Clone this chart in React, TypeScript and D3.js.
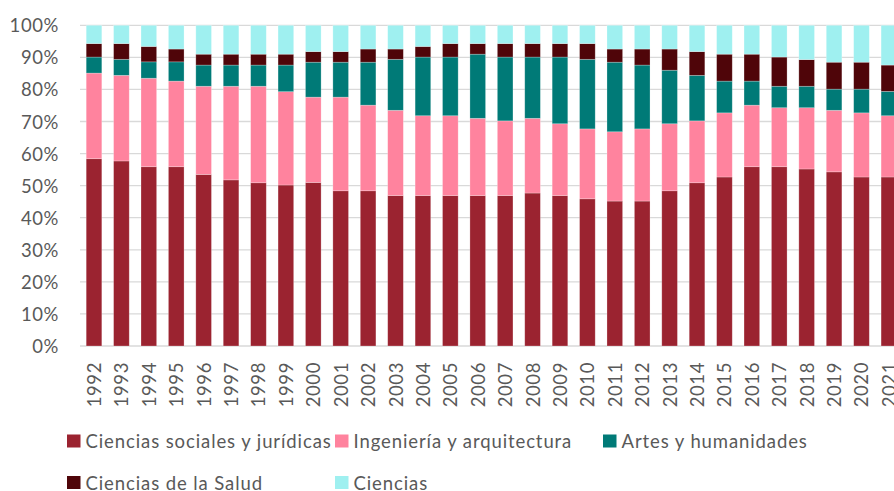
import React, { useEffect, useRef } from "react";
import * as d3 from "d3";

const years = ["1992","1993","1994","1995","1996","1997","1998","1999","2000","2001","2002","2003","2004","2005","2006","2007","2008","2009","2010","2011","2012","2013","2014","2015","2016","2017","2018","2019","2020","2021"];

const seriesNames = ["Ciencias sociales y jurídicas", "Ingeniería y arquitectura", "Artes y humanidades", "Ciencias de la Salud", "Ciencias"];

const socialesJuridicas = [58.4,57.7,55.9,55.9,53.5,51.8,50.9,50.2,51.0,48.4,48.4,46.9,46.9,46.9,46.9,46.9,47.7,46.9,45.9,45.2,45.2,48.4,50.9,52.7,55.9,55.9,55.2,54.3,52.7,52.7];
const ingenieriaArquitectura = [26.7,26.7,27.6,26.7,27.5,29.2,30.1,29.1,26.6,29.2,26.7,26.6,24.9,24.9,24.1,23.3,23.3,22.4,21.8,21.6,22.5,20.9,19.3,20.0,19.2,18.4,19.1,19.2,20.0,19.1];
const artesHumanidades = [5.0,5.0,5.1,6.0,6.6,6.6,6.6,8.3,10.9,10.9,13.4,15.9,18.3,18.3,20.0,19.9,19.1,20.8,21.7,21.7,19.9,16.7,14.2,9.9,7.5,6.7,6.7,6.6,7.4,7.6];
const cienciasSalud = [4.2,4.9,4.8,4.0,3.4,3.4,3.4,3.4,3.3,3.3,4.1,3.2,3.3,4.2,3.3,4.2,4.2,4.2,4.9,4.1,5.0,6.6,7.4,8.4,8.4,9.1,8.3,8.4,8.4,8.2];
const ciencias = [5.7,5.7,6.6,7.4,9.0,9.0,9.0,9.0,8.2,8.2,7.4,7.4,6.6,5.7,5.7,5.7,5.7,5.7,5.7,7.4,7.4,7.4,8.2,9.0,9.0,9.9,10.7,11.5,11.5,12.4];

const yTicks = [0,10,20,30,40,50,60,70,80,90,100];
const colors = ["#9B2330", "#FF839E", "#007A77", "#4F0509", "#9FF0F0"];

const W = 894, H = 491;
const FONT = "Lato, 'Open Sans', sans-serif";

export default function App() {
  const ref = useRef<SVGSVGElement>(null);
  useEffect(() => {
    const svg = d3.select(ref.current);
    svg.selectAll("*").remove();
    const seriesData = [socialesJuridicas, ingenieriaArquitectura, artesHumanidades, cienciasSalud, ciencias];
    const rows = years.map((y, i) => {
      const o: any = { year: y };
      seriesNames.forEach((n, k) => (o[n] = seriesData[k][i]));
      return o;
    });
    const stack = d3.stack<any>().keys(seriesNames).offset(d3.stackOffsetExpand);
    const layers = stack(rows);

    const x = d3.scaleBand().domain(years).range([80.3, 902.6]).paddingInner(0.43).paddingOuter(0.215);
    const y = d3.scaleLinear().domain([0, 1]).range([346, 25.3]);

    // gridlines
    svg.append("g").selectAll("line").data(yTicks).join("line")
      .attr("x1", 80).attr("x2", W)
      .attr("y1", d => y(d / 100)).attr("y2", d => y(d / 100))
      .attr("stroke", "#D9D9D9").attr("stroke-width", 1.3);

    // y labels
    svg.append("g").selectAll("text").data(yTicks).join("text")
      .attr("x", 59).attr("y", d => y(d / 100))
      .attr("text-anchor", "end").attr("dominant-baseline", "central")
      .attr("font-family", FONT).attr("font-size", 18.5).attr("letter-spacing", 0.6).attr("fill", "#595959")
      .text(d => d + "%");

    // bars
    svg.append("g").selectAll("g").data(layers).join("g")
      .attr("fill", (_, i) => colors[i])
      .selectAll("rect").data(d => d).join("rect")
      .attr("x", d => x(d.data.year)!)
      .attr("width", x.bandwidth())
      .attr("y", d => y(d[1]))
      .attr("height", d => y(d[0]) - y(d[1]))
      .attr("stroke", "rgba(255,255,255,0.35)").attr("stroke-width", 0.7);

    // x labels
    svg.append("g").selectAll("text").data(years).join("text")
      .attr("transform", d => `translate(${x(d)! + x.bandwidth() / 2},362) rotate(-90)`)
      .attr("text-anchor", "end").attr("dominant-baseline", "central")
      .attr("font-family", FONT).attr("font-size", 18.5).attr("letter-spacing", 0.6).attr("fill", "#595959")
      .text(d => d);

    // legend
    const legendPos = [
      { x: 67, y: 441 }, { x: 335, y: 441 }, { x: 603, y: 441 },
      { x: 67, y: 482.5 }, { x: 335, y: 482.5 },
    ];
    const lg = svg.append("g").selectAll("g").data(seriesNames).join("g")
      .attr("transform", (_, i) => `translate(${legendPos[i].x},${legendPos[i].y})`);
    lg.append("rect").attr("x", 0).attr("y", -6.5).attr("width", 13.5).attr("height", 13)
      .attr("fill", (_, i) => colors[i]);
    lg.append("text").attr("x", 18.5).attr("y", 0).attr("dominant-baseline", "central")
      .attr("font-family", FONT).attr("font-size", 18.5).attr("letter-spacing", 0.9).attr("fill", "#595959")
      .text(d => d);
  }, []);
  return (
    <svg ref={ref} width={W} height={H}
      style={{ position: "absolute", left: 0, top: 0, background: "#fff", overflow: "hidden" }} />
  );
}
